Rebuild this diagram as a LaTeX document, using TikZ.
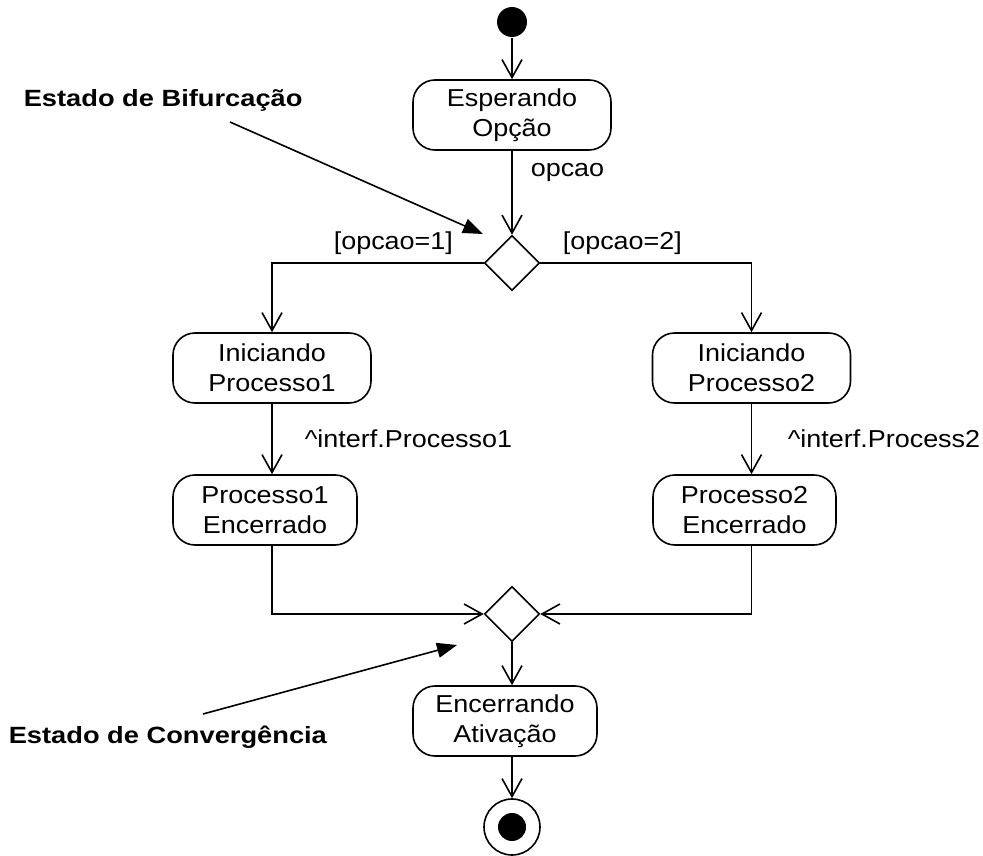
\documentclass[tikz,border=0pt]{standalone}
\usepackage{fontspec}
\setmainfont{Liberation Sans}[FakeStretch=1.1]
\newfontfamily\annotfont{Liberation Sans}[FakeStretch=1.16]
\usetikzlibrary{arrows.meta,shapes.geometric}
\begin{document}
\begin{tikzpicture}[x=1pt,y=-1pt,line width=1.6pt,
  state/.style={draw,rounded corners=22pt,align=center,minimum height=70pt,inner sep=0pt,font=\fontsize{24.5}{30}\selectfont},
  decision/.style={draw,diamond,minimum width=55pt,minimum height=55pt,inner sep=0pt,aspect=1},
  flow/.style={-{Straight Barb[length=18pt,width=20pt]}},
  annot/.style={-{Triangle[length=20pt,width=15pt]}},
  lbl/.style={anchor=base west,inner sep=0pt,font=\fontsize{24.5}{30}\selectfont},
  note/.style={anchor=base west,inner sep=0pt,font=\annotfont\bfseries\fontsize{23.5}{28}\selectfont}]
\fill[white] (0,0) rectangle (983,856);
\useasboundingbox (0,0) rectangle (983,856);
% nodes
\node[circle,fill=black,minimum size=30pt,inner sep=0pt] (start) at (512,22) {};
\node[state,minimum width=198pt] (esp) at (512,115) {Esperando\\Opção};
\node[decision] (d1) at (512,263) {};
\node[state,minimum width=198pt] (ip1) at (272,368) {Iniciando\\Processo1};
\node[state,minimum width=198pt] (ip2) at (751.5,368) {Iniciando\\Processo2};
\node[state,minimum width=184pt] (pe1) at (265,510) {Processo1\\Encerrado};
\node[state,minimum width=183pt] (pe2) at (744.5,510) {Processo2\\Encerrado};
\node[decision] (d2) at (512,614) {};
\node[state,minimum width=184pt] (enc) at (505,721) {Encerrando\\Ativação};
\node[circle,draw,minimum size=56pt,inner sep=0pt] (end) at (512,827) {};
\node[circle,fill=black,minimum size=28pt,inner sep=0pt] (endin) at (end) {};
% labels
\node[lbl] (lopc) at (530,177) {opcao};
\node[lbl] (lo1) at (333,249) {[opcao=1]};
\node[lbl] (lo2) at (562,249) {[opcao=2]};
\node[lbl] (li1) at (304,447) {\textasciicircum interf.Processo1};
\node[lbl] (li2) at (787,447) {\textasciicircum interf.Process2};
\node[note] (nb) at (23,107) {Estado de Bifurcação};
\node[note] (nc) at (8,743) {Estado de Convergência};
% connectors
\draw[flow] (start) -- (esp);
\draw[flow] (esp) -- (d1);
\draw[flow] (d1.west) -| (ip1.north);
\draw[flow] (d1.east) -| (ip2.north);
\draw[flow] (ip1.south) -- (ip1.south |- pe1.north);
\draw[flow] (ip2.south) -- (ip2.south |- pe2.north);
\draw[flow] (pe1.south -| ip1.south) |- (d2.west);
\draw[flow] (pe2.south -| ip2.south) |- (d2.east);
\draw[flow] (d2.south) -- (d2.south |- enc.north);
\draw[flow] (enc.south -| d2.south) -- (end);
% annotation arrows
\coordinate (b1) at (230,122);
\coordinate (b2) at (483,234);
\coordinate (c1) at (203,714);
\coordinate (c2) at (457,645);
\draw[annot] (b1) -- (b2);
\draw[annot] (c1) -- (c2);
\end{tikzpicture}
\end{document}
